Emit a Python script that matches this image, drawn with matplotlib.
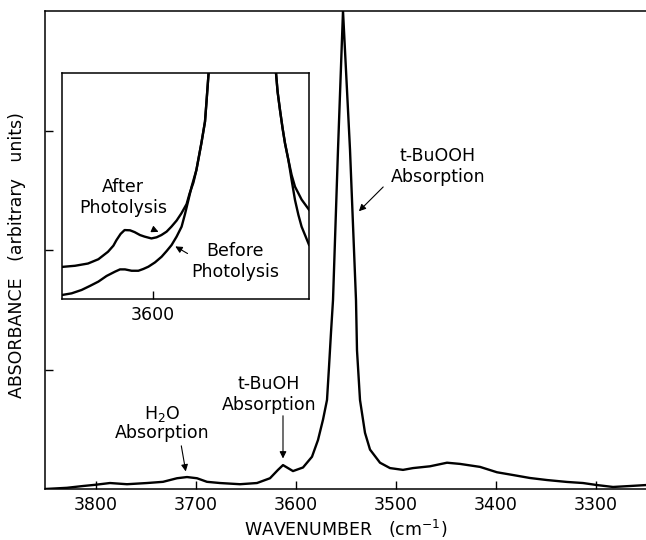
import matplotlib
matplotlib.use('Agg')
import matplotlib.pyplot as plt

# main spectrum: wavenumber (cm^-1) vs absorbance (arbitrary units)
wavenumber = [3851, 3829, 3813, 3801, 3786, 3769, 3749, 3733, 3719, 3709, 3699, 3689,
              3676, 3656, 3639, 3626, 3618, 3613, 3608, 3603, 3593, 3584, 3578, 3573,
              3569, 3567, 3565, 3563, 3558, 3553, 3546, 3540, 3539, 3536, 3531, 3526,
              3516, 3506, 3493, 3483, 3466, 3449, 3436, 3416, 3399, 3383, 3366, 3349,
              3329, 3313, 3299, 3283, 3266, 3250]
absorbance = [0.0, 0.01, 0.025, 0.035, 0.05, 0.04, 0.05, 0.06, 0.09, 0.10, 0.09, 0.06,
              0.05, 0.04, 0.05, 0.09, 0.16, 0.20, 0.175, 0.15, 0.18, 0.27, 0.41, 0.58,
              0.745, 1.02, 1.31, 1.58, 2.84, 4.0, 2.84, 1.58, 1.16, 0.745, 0.47, 0.33,
              0.22, 0.175, 0.16, 0.175, 0.19, 0.22, 0.21, 0.185, 0.14, 0.117, 0.092, 0.075,
              0.059, 0.05, 0.033, 0.017, 0.025, 0.033]

# inset: enlarged region around the t-BuOH band
inset_wn_after = [3645.5, 3639, 3632.5, 3627.3, 3622.5, 3619.8, 3618.3, 3616.2, 3614.2,
                  3611.5, 3609.2, 3606.5, 3604.2, 3600.8, 3598.2, 3595.8, 3593.2, 3590.8,
                  3588.2, 3585.8, 3583.2, 3581.7, 3579.8, 3578.3, 3575.8, 3574, 3573.3,
                  3572.2, 3555, 3538.5, 3537.7, 3536.5, 3535.2, 3534, 3532.3, 3530.7,
                  3529, 3525.7, 3522]
inset_after = [0.142, 0.147, 0.157, 0.176, 0.209, 0.236, 0.260, 0.288, 0.305,
               0.304, 0.296, 0.283, 0.276, 0.268, 0.273, 0.283, 0.298, 0.320,
               0.347, 0.379, 0.420, 0.467, 0.515, 0.571, 0.690, 0.785, 0.867,
               1.0, 1.6, 1.0, 0.917, 0.836, 0.755, 0.689, 0.615, 0.549,
               0.497, 0.440, 0.395]
inset_wn_before = [3645.3, 3640.7, 3635.7, 3631.5, 3627.3, 3623.2, 3619, 3616.5, 3614,
                   3610.7, 3607.3, 3604.8, 3602.3, 3599, 3595.7, 3593.2, 3590.7, 3588.2,
                   3585.7, 3584, 3582.3, 3580.7, 3578.3, 3575.8, 3574, 3573.3, 3572.2,
                   3555, 3538.5, 3537.7, 3536.5, 3535.2, 3534, 3532.3, 3530.7, 3529,
                   3527.3, 3525.7, 3522]
inset_before = [0.018, 0.025, 0.040, 0.058, 0.077, 0.102, 0.121, 0.131, 0.131,
                0.125, 0.125, 0.133, 0.143, 0.162, 0.187, 0.212, 0.239, 0.276,
                0.320, 0.376, 0.438, 0.497, 0.571, 0.690, 0.785, 0.867, 1.0,
                1.6, 1.0, 0.917, 0.836, 0.755, 0.689, 0.615, 0.527, 0.438,
                0.372, 0.320, 0.240]

main_ticks = [3800, 3700, 3600, 3500, 3400, 3300]
inset_ticks = [3600]

fs = 12.5
arrow = dict(arrowstyle='-|>', color='black', lw=0.8, mutation_scale=10)

fig = plt.figure(figsize=(6.46, 5.40), dpi=100)

ax = fig.add_axes([45 / 646, 51 / 540, 601 / 646, 478 / 540])
ax.plot(wavenumber, absorbance, color='black', lw=1.7, solid_joinstyle='round')
ax.set_xlim(3851, 3250)
ax.set_ylim(0, 4)
ax.set_xticks(main_ticks)
ax.set_yticks([1, 2, 3])
ax.set_yticklabels([])
ax.tick_params(direction='in', length=6, width=1, labelsize=fs, pad=5)
ax.spines['right'].set_visible(False)
for s in ['left', 'top', 'bottom']:
    ax.spines[s].set_linewidth(1.1)
ax.set_xlabel('WAVENUMBER   (cm$^{-1}$)', fontsize=fs, labelpad=3)
ax.set_ylabel('ABSORBANCE   (arbitrary   units)', fontsize=12.5)
ax.yaxis.set_label_coords(-0.032, 0.49)

# labels and arrows on the main spectrum
ax.text(0.654, 0.675, 't-BuOOH\nAbsorption', transform=ax.transAxes,
        ha='center', va='center', fontsize=fs, linespacing=1.2)
ax.annotate('', xy=(0.519, 0.577), xytext=(0.566, 0.636), xycoords='axes fraction',
            arrowprops=arrow)
ax.text(0.373, 0.197, 't-BuOH\nAbsorption', transform=ax.transAxes,
        ha='center', va='center', fontsize=fs, linespacing=1.2)
ax.annotate('', xy=(0.396, 0.058), xytext=(0.396, 0.159), xycoords='axes fraction',
            arrowprops=arrow)
ax.text(0.195, 0.157, 'H$_2$O', transform=ax.transAxes,
        ha='center', va='center', fontsize=fs)
ax.text(0.195, 0.117, 'Absorption', transform=ax.transAxes,
        ha='center', va='center', fontsize=fs)
ax.annotate('', xy=(0.235, 0.031), xytext=(0.226, 0.096), xycoords='axes fraction',
            arrowprops=arrow)

# inset
ins = fig.add_axes([62 / 646, 241 / 540, 247 / 646, 226 / 540])
ins.plot(inset_wn_after, inset_after, color='black', lw=1.7, solid_joinstyle='round')
ins.plot(inset_wn_before, inset_before, color='black', lw=1.7, solid_joinstyle='round')
ins.set_xlim(3645.5, 3522)
ins.set_ylim(0, 1)
ins.set_xticks(inset_ticks)
ins.set_yticks([])
ins.tick_params(direction='in', length=6, width=1, labelsize=fs, pad=5)
for s in ins.spines.values():
    s.set_linewidth(1.1)
ins.text(0.247, 0.449, 'After\nPhotolysis', transform=ins.transAxes,
         ha='center', va='center', fontsize=fs, linespacing=1.2)
ins.annotate('', xy=(0.401, 0.292), xytext=(0.356, 0.314), xycoords='axes fraction',
             arrowprops=arrow)
ins.text(0.700, 0.166, 'Before\nPhotolysis', transform=ins.transAxes,
         ha='center', va='center', fontsize=fs, linespacing=1.2)
ins.annotate('', xy=(0.449, 0.239), xytext=(0.518, 0.195), xycoords='axes fraction',
             arrowprops=arrow)

fig.savefig('out.png', dpi=100)
